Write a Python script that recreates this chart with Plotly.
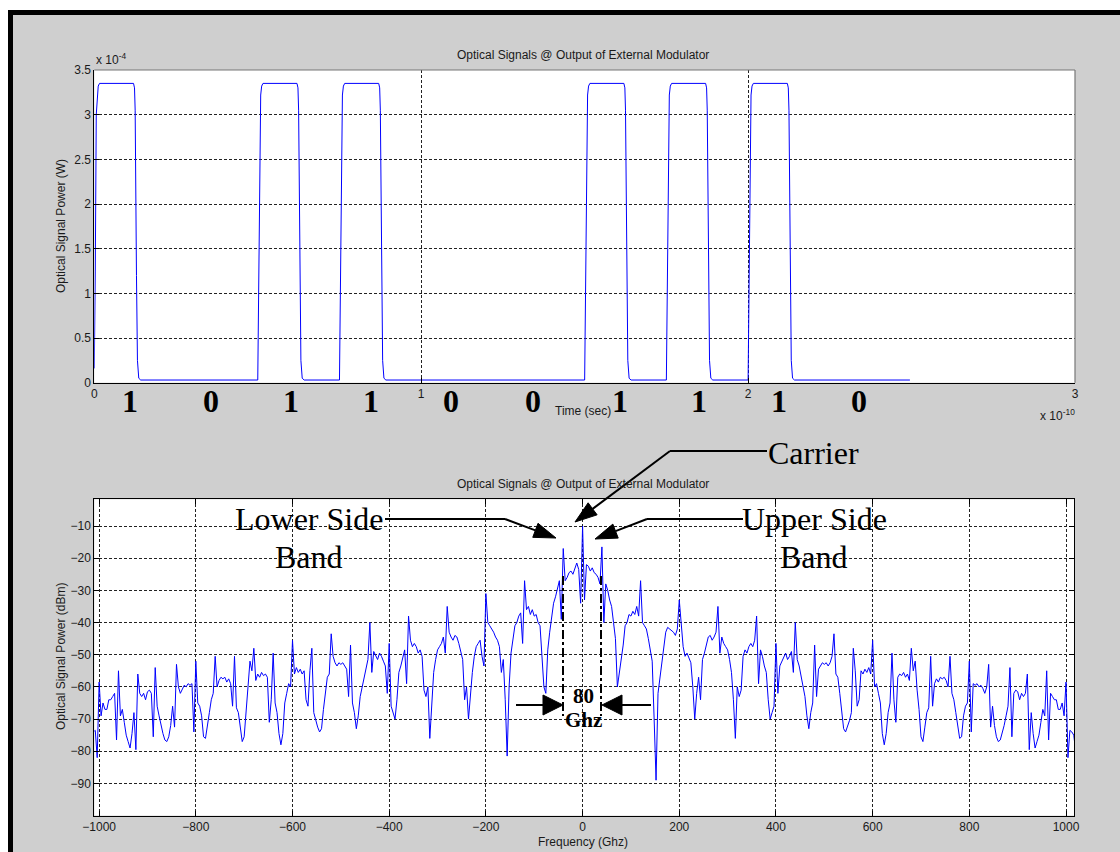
import numpy as np
import plotly.graph_objects as go

W, H = 1120, 852
SANS = "Liberation Sans, Arial, sans-serif"
SERIF = "Liberation Serif, Times New Roman, serif"
GRAY_BG = "#cfcfcf"


def px(x):
    return x / W


def py(y):
    return 1 - y / H


# ---------------- time-domain waveform (ps, units of 1e-4 W) ----------------
bits = ["1", "0", "1", "1", "0", "0", "1", "1", "1", "0"]
bit_label_px = [130, 211, 291, 371, 451, 533, 620, 699, 779, 859]

time_ps = [
    0.0, 0.1, 0.3, 0.6, 0.9, 1.2, 1.6, 12.0, 12.3, 12.5, 12.9, 13.2, 13.6, 14.2,
    50.0, 50.3, 50.6, 50.9, 51.2, 51.6, 62.0, 62.3, 62.5, 62.9, 63.2, 63.6, 64.2,
    75.0, 75.3, 75.6, 75.9, 76.2, 76.6, 87.0, 87.3, 87.5, 87.9, 88.2, 88.6, 89.2,
    150.0, 150.3, 150.6, 150.9, 151.2, 151.6, 162.0, 162.3, 162.5, 162.9, 163.2, 163.6, 164.2,
    175.0, 175.3, 175.6, 175.9, 176.2, 176.6, 187.0, 187.3, 187.5, 187.9, 188.2, 188.6, 189.2,
    200.0, 200.3, 200.6, 200.9, 201.2, 201.6, 212.0, 212.3, 212.5, 212.9, 213.2, 213.6, 214.2,
    249.5,
]
power_e4 = [
    0.16, 1.15, 1.25, 3.0, 3.22, 3.32, 3.35, 3.35, 3.3, 3.05, 1.2, 0.25, 0.05, 0.03,
    0.03, 1.3, 2.9, 3.22, 3.32, 3.35, 3.35, 3.3, 3.05, 1.2, 0.25, 0.05, 0.03,
    0.03, 1.3, 2.9, 3.22, 3.32, 3.35, 3.35, 3.3, 3.05, 1.2, 0.25, 0.05, 0.03,
    0.03, 1.3, 2.9, 3.22, 3.32, 3.35, 3.35, 3.3, 3.05, 1.2, 0.25, 0.05, 0.03,
    0.03, 1.3, 2.9, 3.22, 3.32, 3.35, 3.35, 3.3, 3.05, 1.2, 0.25, 0.05, 0.03,
    0.03, 1.3, 2.9, 3.22, 3.32, 3.35, 3.35, 3.3, 3.05, 1.2, 0.25, 0.05, 0.03,
    0.03,
]

# ---------------- optical spectrum, 4 GHz line spacing from -1012 GHz ----------------
spectrum_dbm = [
    -74, -73.5, -82, -58.5, -69, -65, -67, -67, -64, -64,            # -1012 .. -976
    -63, -62, -76.5, -55, -69, -67, -71, -75, -77, -79,              # -972 .. -936
    -74.5, -68, -79.5, -56, -62, -63, -62, -64, -61.5, -61,          # -932 .. -896
    -62, -75.5, -54, -66, -69, -72, -74.5, -76.5, -77, -75.5,        # -892 .. -856
    -72, -66, -72.5, -53, -60, -62, -60.5, -59.5, -60, -59,          # -852 .. -816
    -59.5, -59, -74, -52, -65, -66, -69, -75.5, -76, -72.5,          # -812 .. -776
    -68, -64, -62, -50.5, -60, -58, -57, -57.5, -57, -58.5,          # -772 .. -736
    -57.5, -59, -66, -50.5, -66.5, -68, -72.5, -77, -75.5, -67,      # -732 .. -696
    -61, -52, -55, -48, -58, -56, -57, -55.5, -56.5, -56,            # -692 .. -656
    -57, -71, -64, -49.5, -65, -68, -74.5, -78, -74.5, -65,          # -652 .. -616
    -62, -59, -60, -45.5, -56, -54, -55.5, -54.5, -56, -55,          # -612 .. -576
    -64, -66, -55, -48, -68, -70.5, -72.5, -74, -73, -67,            # -572 .. -536
    -62, -57, -56, -43.5, -50.5, -52.5, -53.5, -52.5, -53, -52.5,    # -532 .. -496
    -53.5, -54.5, -63, -47, -65, -68, -73, -69, -63, -60,            # -492 .. -456
    -56.5, -53.5, -51.5, -40, -55.5, -49, -50.5, -51.5, -49.5, -50.5,  # -452 .. -416
    -52, -53.5, -62, -46.5, -66, -68, -70, -64, -55.5, -53.5,        # -412 .. -376
    -50.5, -48.5, -59, -38, -45.5, -47.5, -46.5, -47.5, -49.5, -48.5,  # -372 .. -336
    -50.5, -61, -63, -60, -76, -64, -55.5, -51.5, -48.5, -47.5,      # -332 .. -296
    -46.5, -44.5, -49.5, -35, -43, -44.5, -45.5, -44, -44.5, -46.5,  # -292 .. -256
    -49.5, -51.5, -64, -60, -70, -62, -55.5, -50.5, -47.5, -46.5,    # -252 .. -216
    -45.5, -50.5, -53.5, -31, -40, -41, -42, -43, -44.5, -45.5,      # -212 .. -176
    -47.5, -55.5, -51.5, -64, -81.5, -60, -49.5, -45.5, -41, -40,    # -172 .. -136
    -38, -37, -46.5, -27, -36, -35, -37.5, -36, -38, -37.5,          # -132 .. -96
    -40, -41, -51.5, -60, -62, -48.5, -43, -39, -34, -32,            # -92 .. -56
    -29, -27, -39, -17, -27, -26, -24.5, -24, -25, -23.5,            # -52 .. -16
    -21.5, -23.5, -34, -10,                                          # -12 .. 0
    -33, -22, -22.5, -24, -23, -24.5, -25, -26, -28, -16.5,          # 4 .. 40
    -40, -28, -30, -33, -35, -40, -45, -60, -56, -52,                # 44 .. 80
    -47, -41, -40, -37.5, -38, -36.5, -37.5, -35, -38, -27,          # 84 .. 120
    -40, -41, -42, -45, -49, -52, -70, -89, -62, -57,                # 124 .. 160
    -53, -48, -43, -41.5, -42, -42.5, -43, -44, -42, -33,            # 164 .. 200
    -40, -47.5, -50.5, -49.5, -51, -52.5, -60, -70, -62, -57,        # 204 .. 240
    -64, -51.5, -49.5, -46.5, -44.5, -44, -45.5, -44.5, -43, -35,    # 244 .. 280
    -49.5, -44.5, -46.5, -47.5, -48.5, -51.5, -55.5, -64, -76, -60,  # 284 .. 320
    -63, -61, -50.5, -48.5, -49.5, -47.5, -46.5, -47.5, -45.5, -38,  # 324 .. 360
    -59, -48.5, -50.5, -53.5, -55.5, -64, -70, -68, -66, -46.5,      # 364 .. 400
    -62, -53.5, -52, -50.5, -49.5, -51.5, -50.5, -49, -55.5, -40,    # 404 .. 440
    -51.5, -53.5, -56.5, -60, -63, -69, -73, -68, -65, -47,          # 444 .. 480
    -63, -54.5, -53.5, -52.5, -53, -52.5, -53.5, -52.5, -50.5, -43.5,  # 484 .. 520
    -56, -57, -62, -67, -73, -74, -72.5, -70.5, -68, -48,            # 524 .. 560
    -55, -66, -64, -55, -56, -54.5, -55.5, -54, -56, -45.5,          # 564 .. 600
    -60, -59, -62, -65, -74.5, -78, -74.5, -68, -65, -49.5,          # 604 .. 640
    -64, -71, -57, -56, -56.5, -55.5, -57, -56, -58, -48,            # 644 .. 680
    -55, -52, -61, -67, -75.5, -77, -72.5, -68, -66.5, -50.5,        # 684 .. 720
    -66, -59, -57.5, -58.5, -57, -57.5, -57, -58, -60, -50.5,        # 724 .. 760
    -62, -64, -68, -72.5, -76, -75.5, -69, -66, -65, -52,            # 764 .. 800
    -74, -59, -59.5, -59, -60, -59.5, -60.5, -62, -60, -53,          # 804 .. 840
    -72.5, -66, -72, -75.5, -77, -76.5, -74.5, -72, -69, -66,        # 844 .. 880
    -54, -75.5, -62, -61, -61.5, -64, -62, -63, -62, -56,            # 884 .. 920
    -79.5, -68, -74.5, -79, -77, -75, -71, -67, -69, -55,            # 924 .. 960
    -76.5, -62, -63, -64, -64, -67, -67, -65, -69, -58.5,            # 964 .. 1000
    -82, -73.5, -74, -75, -80,                                       # 1004 .. 1020
]
freq_ghz = -1012 + 4 * np.arange(len(spectrum_dbm))

# tick labels
time_ticks = [0, 1e-10, 2e-10, 3e-10]
time_ticktext = ["0", "1", "2", "3"]
power_ticks = [0, 0.5e-4, 1e-4, 1.5e-4, 2e-4, 2.5e-4, 3e-4, 3.5e-4]
power_ticktext = ["0", "0.5", "1", "1.5", "2", "2.5", "3", "3.5"]
freq_ticks = [-1000, -800, -600, -400, -200, 0, 200, 400, 600, 800, 1000]
dbm_ticks = [-90, -80, -70, -60, -50, -40, -30, -20, -10]

fig = go.Figure()
fig.add_trace(go.Scatter(
    x=np.array(time_ps) * 1e-12, y=np.array(power_e4) * 1e-4,
    mode="lines", line=dict(color="#0000ff", width=1),
    xaxis="x", yaxis="y", hoverinfo="skip", showlegend=False))
fig.add_trace(go.Scatter(
    x=freq_ghz, y=spectrum_dbm,
    mode="lines", line=dict(color="#0000ff", width=1),
    xaxis="x2", yaxis="y2", hoverinfo="skip", showlegend=False))

tickfont = dict(family=SANS, size=12, color="#1a1a1a")
common = dict(showgrid=True, gridcolor="#222222", griddash="3px,2px", gridwidth=1,
              zeroline=False, ticks="inside", ticklen=5, tickcolor="black",
              tickfont=tickfont, showline=True, linecolor="black", linewidth=1,
              automargin=False)

top_x = (px(94.3), px(1075))
top_y = (py(382.7), py(70))
bot_x = (px(94.3), px(1074))
bot_y = (py(815.6), py(499.3))

fig.update_layout(
    width=W, height=H, autosize=False,
    margin=dict(l=0, r=0, t=0, b=0, pad=0),
    paper_bgcolor=GRAY_BG, plot_bgcolor="white",
    xaxis=dict(domain=list(top_x), range=[0, 3e-10], tickvals=time_ticks,
               ticktext=time_ticktext, anchor="y", mirror=False, **common),
    yaxis=dict(domain=list(top_y), range=[0, 3.5e-4], tickvals=power_ticks,
               ticktext=power_ticktext, anchor="x", mirror=False, **common),
    xaxis2=dict(domain=list(bot_x), range=[-1010, 1016.5], tickvals=freq_ticks,
                anchor="y2", mirror="ticks", **common),
    yaxis2=dict(domain=list(bot_y), range=[-100, -1.7], tickvals=dbm_ticks,
                anchor="x2", mirror="ticks", **common),
)

shapes = []
# window frame: white outer strip and thick black border
shapes.append(dict(type="rect", xref="paper", yref="paper", x0=0, x1=1, y0=py(10), y1=1,
                   fillcolor="white", line=dict(width=0), layer="below"))
shapes.append(dict(type="rect", xref="paper", yref="paper", x0=0, x1=px(8), y0=0, y1=1,
                   fillcolor="white", line=dict(width=0), layer="below"))
shapes.append(dict(type="rect", xref="paper", yref="paper", x0=px(8), x1=1, y0=py(15), y1=py(10),
                   fillcolor="black", line=dict(width=0), layer="below"))
shapes.append(dict(type="rect", xref="paper", yref="paper", x0=px(8), x1=px(13), y0=0, y1=py(10),
                   fillcolor="black", line=dict(width=0), layer="below"))
# upper panel box: grey top and right edges
shapes.append(dict(type="line", xref="paper", yref="paper", x0=top_x[0], x1=top_x[1],
                   y0=top_y[1], y1=top_y[1], line=dict(color="#777777", width=1.2)))
shapes.append(dict(type="line", xref="paper", yref="paper", x0=top_x[1], x1=top_x[1],
                   y0=top_y[0], y1=top_y[1], line=dict(color="#777777", width=1.2)))


def seg(x0, y0, x1, y1, dash="solid", width=2):
    shapes.append(dict(type="line", xref="paper", yref="paper",
                       x0=px(x0), y0=py(y0), x1=px(x1), y1=py(y1),
                       line=dict(color="black", width=width, dash=dash), layer="above"))


def head(tail, tip, length=22, half=7.5):
    tx, ty = tip
    dx, dy = tip[0] - tail[0], tip[1] - tail[1]
    n = (dx * dx + dy * dy) ** 0.5
    ux, uy = dx / n, dy / n
    bx, by = tx - length * ux, ty - length * uy
    nx, ny = -uy, ux
    pts = [(tx, ty), (bx + half * nx, by + half * ny), (bx - half * nx, by - half * ny)]
    path = "M " + " L ".join(f"{px(a):.5f},{py(b):.5f}" for a, b in pts) + " Z"
    shapes.append(dict(type="path", xref="paper", yref="paper", path=path,
                       fillcolor="black", line=dict(color="black", width=1), layer="above"))
    return bx, by


def bent_arrow(start, knee, tip):
    seg(start[0], start[1], knee[0], knee[1])
    bx, by = head(knee, tip)
    seg(knee[0], knee[1], bx, by)


bent_arrow((767, 451), (670, 451), (575, 522))    # carrier
bent_arrow((743, 519), (647, 519), (595, 539))    # upper side band
bent_arrow((385, 519), (505, 519), (556, 538))    # lower side band

# 80 GHz spacing marker
seg(563, 576, 563, 716, dash="dashdot", width=2)
seg(601, 576, 601, 716, dash="dashdot", width=2)
bx, by = head((516, 705), (563, 705), length=20, half=10)
seg(516, 705, bx, by)
bx, by = head((651, 705), (602, 705), length=20, half=10)
seg(651, 705, bx, by)

fig.update_layout(shapes=shapes)

ann = []


def text(x, y, s, size=12, family=SANS, color="#1a1a1a", angle=0, xanchor="center", yanchor="middle"):
    ann.append(dict(x=px(x), y=py(y), xref="paper", yref="paper", text=s, showarrow=False,
                    font=dict(family=family, size=size, color=color), textangle=angle,
                    xanchor=xanchor, yanchor=yanchor))


title = "Optical Signals @ Output of External Modulator"
text(582.5, 55, title)
text(582.5, 484, title)
text(61, 226, "Optical Signal Power (W)", angle=-90)
text(61, 657, "Optical Signal Power (dBm)", angle=-90)
text(583, 411, "Time (sec)")
text(583, 842, "Frequency (Ghz)")
text(94, 69, "x 10<sup>-4</sup>", xanchor="left", yanchor="bottom")
text(1077, 405, "x 10<sup>-10</sup>", xanchor="right", yanchor="top")

for b, xpix in zip(bits, bit_label_px):
    text(xpix, 401, f"<b>{b}</b>", size=32, family=SERIF, color="black")

text(813.5, 453, "Carrier", size=32, family=SERIF, color="black")
text(308.5, 519, "Lower Side", size=32, family=SERIF, color="black")
text(308.5, 557, "Band", size=32, family=SERIF, color="black")
text(814, 519, "Upper Side", size=32, family=SERIF, color="black")
text(814, 557, "Band", size=32, family=SERIF, color="black")
text(583, 696, "<b>80</b>", size=21, family=SERIF, color="black")
text(583, 720, "<b>Ghz</b>", size=21, family=SERIF, color="black")

fig.update_layout(annotations=ann)

fig.write_html("out.html")
